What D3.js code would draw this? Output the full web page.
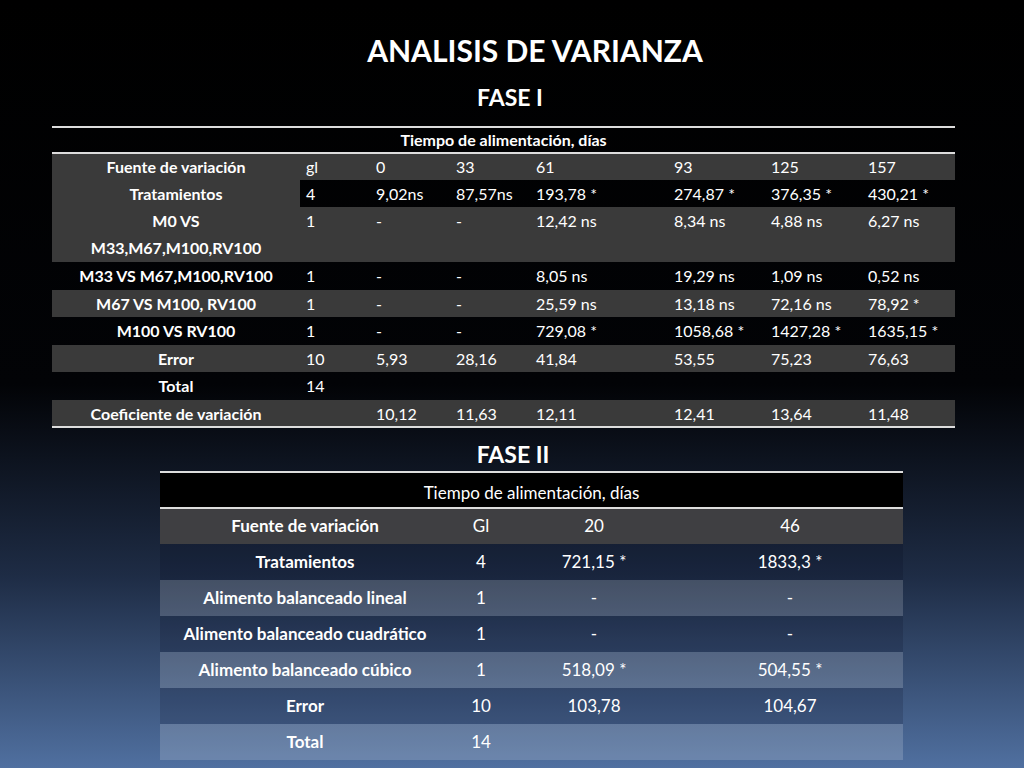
<!DOCTYPE html>
<html><head><meta charset="utf-8">
<script src="https://cdn.jsdelivr.net/npm/d3@7"></script>
<style>body{margin:0;background:#000;overflow:hidden}</style>
</head><body>
<script>
// fase I
var f1Days = ['0','33','61','93','125','157'];
var f1Rows = ['Tratamientos','M0 VS|M33,M67,M100,RV100','M33 VS M67,M100,RV100','M67  VS  M100, RV100','M100 VS RV100','Error','Total','Coeficiente de variación'];
var f1Gl = ['4','1','1','1','1','10','14',''];
var f1Vals = [
  ['9,02ns','87,57ns','193,78 *','274,87 *','376,35 *','430,21 *'],
  ['-','-','12,42 ns','8,34 ns','4,88 ns','6,27 ns'],
  ['-','-','8,05 ns','19,29 ns','1,09 ns','0,52 ns'],
  ['-','-','25,59 ns','13,18 ns','72,16 ns','78,92 *'],
  ['-','-','729,08 *','1058,68 *','1427,28 *','1635,15 *'],
  ['5,93','28,16','41,84','53,55','75,23','76,63'],
  ['','','','','',''],
  ['10,12','11,63','12,11','12,41','13,64','11,48']
];
// fase II
var f2Days = ['20','46'];
var f2Rows = ['Tratamientos','Alimento balanceado lineal','Alimento balanceado cuadrático','Alimento balanceado cúbico','Error','Total'];
var f2Gl = ['4','1','1','1','10','14'];
var f2Vals = [['721,15 *','1833,3 *'],['-','-'],['-','-'],['518,09 *','504,55 *'],['103,78','104,67'],['','']];

var W = 1024, H = 768;
var svg = d3.select('body').append('svg').attr('width', W).attr('height', H)
  .style('font-family', 'Lato, "Open Sans", sans-serif');
var grad = svg.append('defs').append('linearGradient').attr('id','bg').attr('x1',0).attr('y1',0).attr('x2',0).attr('y2',1);
grad.append('stop').attr('offset','0%').attr('stop-color','#000');
grad.append('stop').attr('offset','50%').attr('stop-color','#020306');
grad.append('stop').attr('offset','75%').attr('stop-color','#1e2c45');
grad.append('stop').attr('offset','100%').attr('stop-color','#5070a0');
svg.append('rect').attr('width',W).attr('height',H).attr('fill','url(#bg)');

svg.append('text').attr('x',535).attr('y',62).attr('text-anchor','middle').attr('fill','#fff')
  .attr('font-size',30).attr('font-weight','bold').text('ANALISIS DE VARIANZA');
svg.append('text').attr('x',510).attr('y',106).attr('text-anchor','middle').attr('fill','#fff')
  .attr('font-size',23).attr('font-weight','bold').text('FASE I');
svg.append('text').attr('x',513).attr('y',463).attr('text-anchor','middle').attr('fill','#fff')
  .attr('font-size',23).attr('font-weight','bold').text('FASE II');

// ---- table 1
var x1 = d3.scaleOrdinal().domain(['lab','gl'].concat(f1Days)).range([52,300,370,450,530,668,765,862]);
var x1End = 955;
var rowH1 = [27,27,55,28,27,28,27,28,27];
var y1 = [153]; rowH1.forEach(function(h,i){ y1.push(y1[i]+h); });
var t1 = svg.append('g').attr('font-size',16).attr('fill','#fff');
t1.append('text').attr('x',(52+x1End)/2).attr('y',146).attr('text-anchor','middle').attr('font-weight','bold').attr('fill','#fff').text('Tiempo de alimentación, días');
var allRows1 = [{lab:'Fuente de variación', gl:'gl', v:f1Days}].concat(f1Rows.map(function(r,i){ return {lab:r, gl:f1Gl[i], v:f1Vals[i]}; }));
allRows1.forEach(function(r,i){
  var y = y1[i], h = rowH1[i];
  if (i === 1) {
    t1.append('rect').attr('x',52).attr('y',y).attr('width',248).attr('height',h).attr('fill','#3a3a3a');
  } else if (i % 2 === 0) {
    t1.append('rect').attr('x',52).attr('y',y).attr('width',x1End-52).attr('height',h).attr('fill','#3a3a3a');
  }
  var lines = r.lab.split('|');
  lines.forEach(function(l,k){
    t1.append('text').attr('x',176).attr('y',y+20+k*27).attr('text-anchor','middle').attr('font-weight','bold').attr('fill','#fff').text(l);
  });
  t1.append('text').attr('x',x1('gl')+6).attr('y',y+20).attr('fill','#fff').text(r.gl);
  r.v.forEach(function(v,j){
    t1.append('text').attr('x',x1(f1Days[j])+6).attr('y',y+20).attr('fill','#fff').text(v);
  });
});
[127,153,y1[y1.length-1]].forEach(function(y){
  svg.append('line').attr('x1',52).attr('x2',x1End).attr('y1',y).attr('y2',y).attr('stroke','#ddd').attr('stroke-width',2);
});

// ---- table 2
var x2End = 903;
var cx2 = [305,481,594,790];
var y2 = d3.scaleBand().domain(d3.range(f2Rows.length+1)).range([508,760]);
var t2 = svg.append('g').attr('font-size',17).attr('fill','#fff');
t2.append('rect').attr('x',160).attr('y',472).attr('width',x2End-160).attr('height',36).attr('fill','#000');
t2.append('text').attr('x',(160+x2End)/2).attr('y',499).attr('text-anchor','middle').attr('fill','#fff').text('Tiempo de alimentación, días');
var allRows2 = [{lab:'Fuente de variación', gl:'Gl', v:f2Days}].concat(f2Rows.map(function(r,i){ return {lab:r, gl:f2Gl[i], v:f2Vals[i]}; }));
allRows2.forEach(function(r,i){
  var y = y2(i), h = y2.bandwidth();
  var fill = i === 0 ? '#3f3f42' : (i % 2 === 0 ? 'rgba(255,255,255,0.17)' : 'rgba(0,0,20,0.15)');
  t2.append('rect').attr('x',160).attr('y',y).attr('width',x2End-160).attr('height',h).attr('fill',fill);
  t2.append('text').attr('x',cx2[0]).attr('y',y+24).attr('text-anchor','middle').attr('font-weight','bold').attr('fill','#fff').text(r.lab);
  t2.append('text').attr('x',cx2[1]).attr('y',y+24).attr('text-anchor','middle').attr('fill','#fff').text(r.gl);
  r.v.forEach(function(v,j){
    t2.append('text').attr('x',cx2[j+2]).attr('y',y+24).attr('text-anchor','middle').attr('fill','#fff').text(v);
  });
});
[472,508].forEach(function(y){
  svg.append('line').attr('x1',160).attr('x2',x2End).attr('y1',y).attr('y2',y).attr('stroke','#ddd').attr('stroke-width',2);
});
</script>
</body></html>
